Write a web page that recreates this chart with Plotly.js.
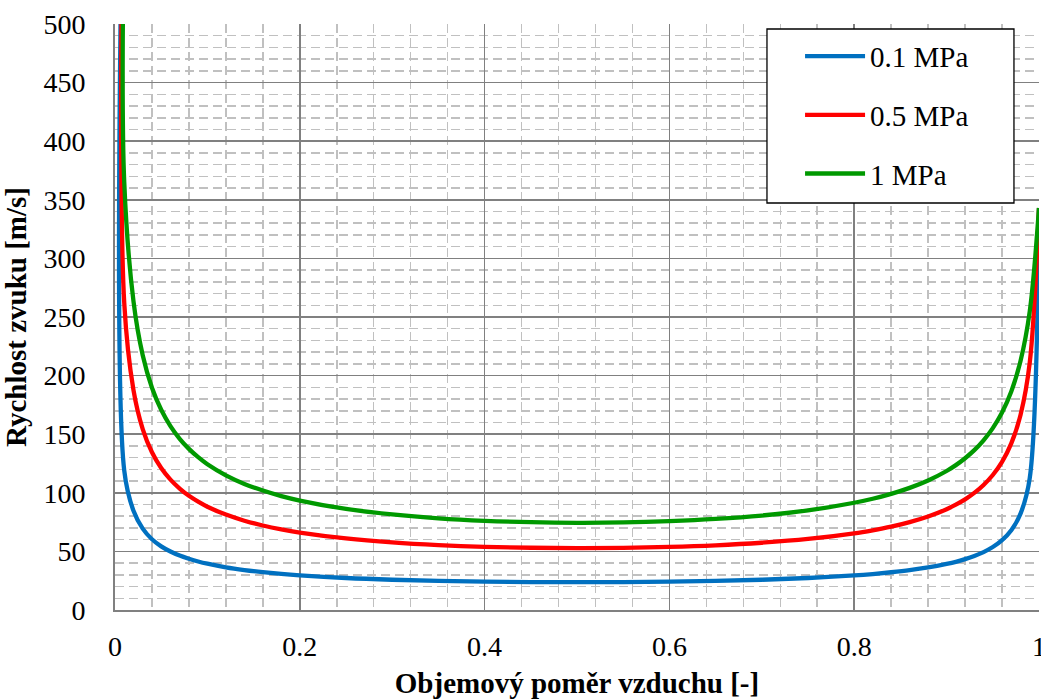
<!DOCTYPE html>
<html>
<head>
<meta charset="utf-8">
<script src="https://cdn.plot.ly/plotly-3.0.1.min.js"></script>
<style>html,body{margin:0;padding:0;background:#fff;}#chart{width:1041px;height:699px;}</style>
</head>
<body>
<div id="chart"></div>
<script>
// Volume fraction of air [-] (shared sample points)
const airFraction = [0.01, 0.02, 0.03, 0.04, 0.05, 0.06, 0.07, 0.08, 0.09, 0.10,
  0.12, 0.14, 0.16, 0.18, 0.20,
  0.25, 0.30, 0.35, 0.40, 0.45, 0.50, 0.55, 0.60, 0.65, 0.70, 0.75, 0.80,
  0.82, 0.84, 0.86, 0.88, 0.90,
  0.91, 0.92, 0.93, 0.94, 0.95, 0.96, 0.97, 0.98, 0.99, 1.00];

// Where each curve leaves the top of the chart (x read at y = 500 m/s)
const topEdgeX = [0.006, 0.007, 0.0085];
const topEdgeY = 500;

// Speed of sound [m/s]
const speed01MPa = [119.0, 84.6, 69.4, 60.4, 54.3, 49.9, 46.4, 43.7, 41.4, 39.5,
  36.4, 34.1, 32.3, 30.8, 29.6,
  27.3, 25.8, 24.8, 24.2, 23.8, 23.7, 23.8, 24.2, 24.8, 25.8, 27.3, 29.5,
  30.7, 32.2, 34.0, 36.3, 39.3,
  41.1, 43.4, 46.1, 49.4, 53.7, 59.6, 68.1, 82.2, 112.6, 343.0];

const speed05MPa = [262.1, 187.7, 154.4, 134.6, 121.1, 111.2, 103.6, 97.4, 92.4, 88.1,
  81.4, 76.2, 72.1, 68.8, 66.1,
  61.1, 57.7, 55.4, 53.9, 53.1, 52.8, 53.0, 53.8, 55.2, 57.4, 60.6, 65.4,
  68.0, 71.1, 75.0, 79.8, 86.0,
  89.9, 94.4, 99.9, 106.7, 115.2, 126.4, 142.2, 166.4, 211.1, 343.0];

const speed1MPa = [365.1, 263.4, 217.3, 189.6, 170.8, 156.9, 146.1, 137.5, 130.4, 124.4,
  114.9, 107.6, 101.9, 97.2, 93.4,
  86.2, 81.5, 78.2, 76.1, 74.9, 74.4, 74.7, 75.8, 77.7, 80.6, 85.0, 91.5,
  94.9, 99.1, 104.2, 110.5, 118.6,
  123.6, 129.5, 136.4, 144.8, 155.2, 168.5, 186.5, 212.5, 254.9, 343.0];

const seriesNames = ['0.1 MPa', '0.5 MPa', '1 MPa'];
const seriesColors = ['#0070C0', '#FF0000', '#009900'];
const xTickValues = [0, 0.2, 0.4, 0.6, 0.8, 1];
const yTickValues = [0, 50, 100, 150, 200, 250, 300, 350, 400, 450, 500];

const FONT = 'Liberation Serif';
const seriesData = [speed01MPa, speed05MPa, speed1MPa];

const traces = seriesData.map((ys, i) => ({
  type: 'scatter',
  mode: 'lines',
  x: [topEdgeX[i]].concat(airFraction),
  y: [topEdgeY].concat(ys),
  name: seriesNames[i],
  legendgroup: 'g' + i,
  line: {color: seriesColors[i], width: 4.3, shape: 'spline', smoothing: 1}
}));

const layout = {
  width: 1041,
  height: 699,
  margin: {l: 115, r: 2, t: 24, b: 89},
  paper_bgcolor: '#ffffff',
  plot_bgcolor: '#ffffff',
  font: {family: FONT, size: 28, color: '#000000'},
  showlegend: true,
  legend: {
    x: 0.7414, xanchor: 'left',
    y: 0.9885, yanchor: 'top',
    bgcolor: 'rgba(0,0,0,0)',
    borderwidth: 0,
    font: {family: FONT, size: 29, color: '#000000'},
    tracegroupgap: 18,
    itemwidth: 60
  },
  shapes: [{
    type: 'rect', xref: 'paper', yref: 'paper',
    x0: 0.7056, x1: 0.9729, y0: 0.6945, y1: 0.9915,
    fillcolor: '#ffffff', line: {color: '#000000', width: 1.3},
    layer: 'above'
  }],
  xaxis: {
    range: [0, 1],
    tickvals: xTickValues,
    ticktext: xTickValues.map(String),
    ticklabeloverflow: 'allow',
    showline: true, linecolor: '#808080', linewidth: 2,
    showgrid: true, gridcolor: '#808080', gridwidth: 1.5,
    zeroline: false,
    ticks: '',
    ticklabelstandoff: 10,
    minor: {dtick: 0.04, tick0: 0, showgrid: true, gridcolor: '#c0c0c0', gridwidth: 1.5, griddash: '9px,5px'},
    title: {text: '<b>Objemový poměr vzduchu [-]</b>', font: {family: FONT, size: 29}, standoff: 14},
    automargin: false
  },
  yaxis: {
    range: [0, 500],
    tickvals: yTickValues,
    ticklabeloverflow: 'allow',
    showline: true, linecolor: '#808080', linewidth: 2,
    showgrid: true, gridcolor: '#808080', gridwidth: 1.5,
    zeroline: false,
    ticks: '',
    ticklabelstandoff: 22,
    minor: {dtick: 10, tick0: 0, showgrid: true, gridcolor: '#c0c0c0', gridwidth: 1.5, griddash: '9px,5px'},
    title: {text: '<b>Rychlost zvuku [m/s]</b>', font: {family: FONT, size: 29}, standoff: 8},
    automargin: false
  }
};

Plotly.newPlot('chart', traces, layout, {displayModeBar: false, staticPlot: true});
</script>
</body>
</html>
